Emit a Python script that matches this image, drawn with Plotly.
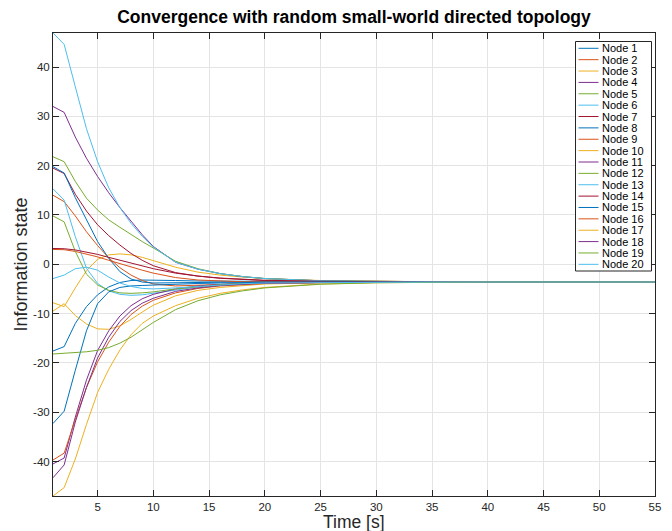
import plotly.graph_objects as go

# ---------------- data ----------------
time_s = [1, 2, 3, 4, 5, 6, 7, 8, 9, 10, 12, 14, 16, 18, 20, 25, 30, 35, 40, 55]

node_01 = [-17.6, -16.7, -12.0, -8.6, -6.2, -4.6, -3.7, -3.3, -3.2, -3.2, -3.3, -3.4, -3.45, -3.5, -3.5, -3.55, -3.6, -3.6, -3.6, -3.6]
node_02 = [14.0, 12.7, 9.8, 6.6, 3.8, 1.3, -0.7, -2.2, -3.3, -4.0, -4.4, -4.3, -4.1, -3.9, -3.8, -3.7, -3.65, -3.6, -3.6, -3.6]
node_03 = [-7.8, -8.6, -4.8, -1.3, 1.0, 1.9, 2.1, 1.9, 1.4, 0.7, -0.6, -1.6, -2.2, -2.6, -2.9, -3.3, -3.5, -3.55, -3.6, -3.6]
node_04 = [32.0, 30.8, 25.8, 21.5, 17.8, 14.5, 11.5, 8.7, 6.0, 3.6, 0.4, -1.0, -1.9, -2.5, -2.9, -3.35, -3.5, -3.55, -3.6, -3.6]
node_05 = [21.8, 20.8, 16.8, 13.4, 11.0, 9.0, 7.5, 6.0, 4.6, 3.3, 0.6, -0.9, -1.9, -2.5, -2.9, -3.35, -3.5, -3.55, -3.6, -3.6]
node_06 = [15.3, 13.0, 5.6, -0.8, -3.9, -5.4, -6.1, -6.3, -6.2, -5.9, -5.2, -4.6, -4.2, -3.95, -3.8, -3.7, -3.65, -3.6, -3.6, -3.6]
node_07 = [19.5, 18.4, 14.2, 10.8, 8.0, 5.8, 3.9, 2.2, 0.8, -0.3, -1.7, -2.4, -2.85, -3.1, -3.3, -3.5, -3.55, -3.6, -3.6, -3.6]
node_08 = [19.8, 18.5, 13.5, 9.0, 4.6, 1.2, -1.5, -3.0, -3.6, -3.8, -3.8, -3.7, -3.65, -3.6, -3.6, -3.6, -3.6, -3.6, -3.6, -3.6]
node_09 = [3.0, 2.95, 2.6, 2.1, 1.5, 0.8, 0.1, -0.6, -1.2, -1.8, -2.7, -3.2, -3.45, -3.55, -3.6, -3.6, -3.6, -3.6, -3.6, -3.6]
node_10 = [-9.5, -8.0, -10.4, -12.1, -13.1, -13.2, -12.5, -11.2, -9.7, -8.3, -6.4, -5.3, -4.7, -4.3, -4.0, -3.75, -3.65, -3.6, -3.6, -3.6]
node_11 = [-40.5, -39.3, -31.0, -23.5, -17.5, -13.5, -10.5, -8.4, -7.0, -6.1, -5.0, -4.4, -4.1, -3.9, -3.8, -3.7, -3.65, -3.6, -3.6, -3.6]
node_12 = [9.8, 8.6, 2.6, -2.0, -4.2, -5.3, -5.8, -5.9, -5.8, -5.6, -5.0, -4.5, -4.15, -3.9, -3.8, -3.7, -3.65, -3.6, -3.6, -3.6]
node_13 = [46.9, 44.6, 36.0, 27.5, 20.8, 15.5, 11.5, 8.3, 5.7, 3.5, 0.4, -1.0, -1.9, -2.5, -2.9, -3.35, -3.5, -3.55, -3.6, -3.6]
node_14 = [3.2, 3.15, 2.9, 2.5, 2.0, 1.4, 0.8, 0.2, -0.4, -0.9, -1.8, -2.4, -2.8, -3.1, -3.25, -3.45, -3.55, -3.6, -3.6, -3.6]
node_15 = [-32.3, -29.8, -21.5, -13.5, -8.0, -5.6, -4.7, -4.4, -4.3, -4.2, -4.0, -3.9, -3.8, -3.7, -3.65, -3.6, -3.6, -3.6, -3.6, -3.6]
node_16 = [-39.7, -38.3, -31.5, -25.0, -19.8, -15.8, -12.6, -10.2, -8.5, -7.3, -5.8, -4.9, -4.4, -4.1, -3.9, -3.75, -3.65, -3.6, -3.6, -3.6]
node_17 = [-47.0, -45.3, -39.5, -32.5, -26.0, -21.3, -17.4, -14.3, -12.0, -10.5, -8.4, -6.9, -5.9, -5.2, -4.7, -4.0, -3.75, -3.65, -3.6, -3.6]
node_18 = [-43.3, -40.7, -32.0, -25.0, -19.0, -14.8, -11.6, -9.4, -7.9, -6.9, -5.5, -4.8, -4.3, -4.0, -3.85, -3.7, -3.65, -3.6, -3.6, -3.6]
node_19 = [-18.2, -18.1, -17.95, -17.75, -17.45, -16.9, -16.0, -14.8, -13.3, -11.8, -9.2, -7.4, -6.2, -5.4, -4.8, -4.05, -3.75, -3.65, -3.6, -3.6]
node_20 = [-2.9, -2.2, -0.9, -0.6, -1.2, -2.6, -3.8, -4.5, -4.9, -5.0, -4.8, -4.5, -4.2, -3.95, -3.8, -3.7, -3.65, -3.6, -3.6, -3.6]

node_series = [node_01, node_02, node_03, node_04, node_05, node_06, node_07, node_08, node_09, node_10,
               node_11, node_12, node_13, node_14, node_15, node_16, node_17, node_18, node_19, node_20]
node_names = ["Node %d" % (i + 1) for i in range(20)]

x_ticks = [5, 10, 15, 20, 25, 30, 35, 40, 45, 50, 55]
y_ticks = [-40, -30, -20, -10, 0, 10, 20, 30, 40]

# ---------------- style ----------------
palette = ['#0072BD', '#D95319', '#EDB120', '#7E2F8E', '#77AC30', '#4DBEEE', '#A2142F']
axis_col = '#262626'
grid_col = '#e4e4e4'
FONT = 'Liberation Sans, Arial, Helvetica, sans-serif'

W, H = 672, 531
L, R, T, B = 53, 17, 33, 35
PW, PH = W - L - R, H - T - B


def px_x(px):
    return (px - L) / PW


def px_y(py):
    return (H - B - py) / PH


fig = go.Figure()
for i, (name, ys) in enumerate(zip(node_names, node_series)):
    fig.add_trace(go.Scatter(x=time_s, y=ys, mode='lines', name=name,
                             line=dict(color=palette[i % 7], width=1),
                             showlegend=False, hoverinfo='skip'))

ymin = min(min(s) for s in node_series)
ymax = max(max(s) for s in node_series)

axis_common = dict(showline=True, linecolor=axis_col, linewidth=1, mirror='ticks',
                   ticks='inside', ticklen=6, tickcolor=axis_col, tickwidth=1,
                   showgrid=True, gridcolor=grid_col, gridwidth=1, zeroline=False,
                   tickfont=dict(family=FONT, size=11.5, color=axis_col))

fig.update_layout(
    width=W, height=H,
    margin=dict(l=L, r=R, t=T, b=B),
    paper_bgcolor='white', plot_bgcolor='white',
    showlegend=False,
    title=dict(text='<b>Convergence with random small-world directed topology</b>',
               x=0.5, xref='paper', xanchor='center',
               y=1 - 17 / H, yref='container', yanchor='middle',
               font=dict(family=FONT, size=17.5, color='black')),
    xaxis=dict(range=[1, 55], tickvals=x_ticks, ticktext=[str(v) for v in x_ticks],
               ticklabelstandoff=0, **axis_common),
    yaxis=dict(range=[ymin, ymax], tickvals=y_ticks, ticktext=[str(v) for v in y_ticks], **axis_common),
)

annotations = [
    dict(text='Time [s]', x=0.5, y=0, xref='paper', yref='paper', xanchor='center', yanchor='top',
         yshift=-15, showarrow=False, borderpad=0, font=dict(family=FONT, size=17.5, color=axis_col)),
    dict(text='Information state', x=0, y=0.5, xref='paper', yref='paper', xanchor='center',
         yanchor='middle', xshift=-33, textangle=-90, showarrow=False,
         font=dict(family=FONT, size=18, color=axis_col)),
]

# manual legend (compact MATLAB-style)
shapes = [dict(type='rect', xref='paper', yref='paper',
               x0=px_x(575.5), x1=px_x(651.5), y0=px_y(271), y1=px_y(41.5),
               fillcolor='white', line=dict(color=axis_col, width=1), layer='above')]
row0, row_h = 48.3, 11.37
for i, name in enumerate(node_names):
    yc = px_y(row0 + i * row_h)
    shapes.append(dict(type='line', xref='paper', yref='paper',
                       x0=px_x(578.5), x1=px_x(598.5), y0=yc, y1=yc,
                       line=dict(color=palette[i % 7], width=1), layer='above'))
    annotations.append(dict(text=name, x=px_x(599.5), y=yc, xref='paper', yref='paper',
                            xanchor='left', yanchor='middle', showarrow=False,
                            font=dict(family=FONT, size=11, color='black')))

fig.update_layout(shapes=shapes, annotations=annotations)
fig.write_html('out.html')
